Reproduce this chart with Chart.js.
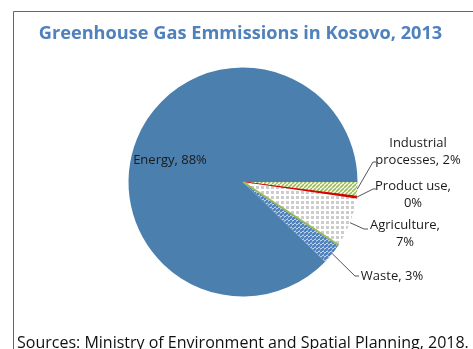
<!DOCTYPE html>
<html>
<head>
<meta charset="utf-8">
<script src="https://cdn.jsdelivr.net/npm/chart.js@4.4.1/dist/chart.umd.min.js"></script>
<style>
  html, body { margin: 0; padding: 0; background: #fff; }
  #ghg { display: block; }
</style>
</head>
<body>
<canvas id="ghg" width="473" height="349"></canvas>
<script>
// Emission shares by sector, clockwise from 3 o'clock
const sectors = ['Industrial processes', 'Product use', 'Agriculture', 'Waste', 'Energy'];
const shares = [2, 0.3, 7, 3, 88];

const titleText = 'Greenhouse Gas Emmissions in Kosovo, 2013';
const sourceText = 'Sources: Ministry of Environment and Spatial Planning, 2018.';

// where each sector label sits and how its text wraps
const labelLayout = {
  'Industrial processes': { x: 418, y: 147, wrap: 'word', knee: [373, 162], end: [376, 162] },
  'Product use':          { x: 413, y: 190, wrap: 'comma', knee: [373, 189], end: [376, 189] },
  'Agriculture':          { x: 405, y: 229, wrap: 'comma', knee: [364, 229], end: [368, 229] },
  'Waste':                { x: 392, y: 280, wrap: null, knee: [355, 276], end: [359, 276] },
  'Energy':               { x: 170, y: 164, wrap: null, inside: true }
};

function makePattern(size, draw) {
  const c = document.createElement('canvas');
  c.width = size; c.height = size;
  const g = c.getContext('2d');
  g.fillStyle = '#fff';
  g.fillRect(0, 0, size, size);
  draw(g, size);
  return document.getElementById('ghg').getContext('2d').createPattern(c, 'repeat');
}

function diagonal(color, width) {
  return function (g, s) {
    g.strokeStyle = color;
    g.lineWidth = width;
    g.beginPath();
    for (let k = -1; k <= 1; k++) {
      g.moveTo(k * s, s);
      g.lineTo(k * s + s, 0);
    }
    g.stroke();
  };
}

const greenHatch = makePattern(4, diagonal('#9bbb59', 1.6));
const blueStripes = makePattern(4, diagonal('#4f81bd', 2.6));
const greyDots = makePattern(5, function (g) {
  g.fillStyle = '#cccccc';
  g.fillRect(1, 1, 3, 3);
});

const fills = [greenHatch, '#d40000', greyDots, blueStripes, '#4a7fae'];

function labelLines(name, value) {
  const text = name + ', ' + Math.round(value) + '%';
  const wrap = labelLayout[name].wrap;
  if (wrap === 'word') {
    const i = text.indexOf(' ');
    return [text.slice(0, i), text.slice(i + 1)];
  }
  if (wrap === 'comma') {
    const i = text.indexOf(',');
    return [text.slice(0, i + 1), text.slice(i + 2)];
  }
  return [text];
}

const decorations = {
  id: 'decorations',
  beforeDraw(chart) {
    const ctx = chart.ctx;
    ctx.save();
    ctx.fillStyle = '#fff';
    ctx.fillRect(0, 0, chart.width, chart.height);
    // outer frame, running off the right and bottom edges
    ctx.strokeStyle = '#666';
    ctx.lineWidth = 1;
    ctx.beginPath();
    ctx.moveTo(13.5, chart.height);
    ctx.lineTo(13.5, 11.5);
    ctx.lineTo(chart.width, 11.5);
    ctx.stroke();

    ctx.fillStyle = '#4f81bd';
    ctx.font = 'bold 18.2px "Open Sans", sans-serif';
    ctx.textAlign = 'center';
    ctx.textBaseline = 'alphabetic';
    ctx.fillText(titleText, 240.5, 38.5);

    ctx.fillStyle = '#111';
    ctx.font = '16px "Open Sans", sans-serif';
    ctx.textAlign = 'left';
    ctx.fillText(sourceText, 17, 348);
    ctx.restore();
  },
  afterDatasetsDraw(chart) {
    const ctx = chart.ctx;
    const arcs = chart.getDatasetMeta(0).data;
    ctx.save();

    // green edge between agriculture and waste
    const waste = arcs[sectors.indexOf('Waste')];
    ctx.strokeStyle = '#9bbb59';
    ctx.lineWidth = 2;
    ctx.beginPath();
    ctx.moveTo(waste.x, waste.y);
    ctx.lineTo(waste.x + Math.cos(waste.startAngle) * waste.outerRadius,
               waste.y + Math.sin(waste.startAngle) * waste.outerRadius);
    ctx.stroke();

    ctx.font = '13px "Open Sans", sans-serif';
    ctx.textAlign = 'center';
    ctx.textBaseline = 'alphabetic';
    sectors.forEach(function (name, i) {
      const arc = arcs[i];
      const pos = labelLayout[name];
      const lines = labelLines(name, shares[i]);
      if (!pos.inside) {
        const mid = (arc.startAngle + arc.endAngle) / 2;
        ctx.strokeStyle = '#555';
        ctx.lineWidth = 1;
        ctx.beginPath();
        ctx.moveTo(arc.x + Math.cos(mid) * arc.outerRadius, arc.y + Math.sin(mid) * arc.outerRadius);
        ctx.lineTo(pos.knee[0], pos.knee[1]);
        ctx.lineTo(pos.end[0], pos.end[1]);
        ctx.stroke();
      }
      ctx.fillStyle = '#1a1a1a';
      lines.forEach(function (line, k) {
        ctx.fillText(line, pos.x, pos.y + k * 17);
      });
    });
    ctx.restore();
  }
};

new Chart(document.getElementById('ghg'), {
  type: 'pie',
  data: {
    labels: sectors,
    datasets: [{
      data: shares,
      backgroundColor: fills,
      borderWidth: [0, 1, 0, 0, 0],
      borderColor: '#d40000'
    }]
  },
  options: {
    responsive: false,
    animation: false,
    devicePixelRatio: 1,
    rotation: 90,
    layout: { padding: { left: 128, right: 115, top: 67, bottom: 52 } },
    plugins: {
      legend: { display: false },
      tooltip: { enabled: false },
      title: { display: false }
    }
  },
  plugins: [decorations]
});
</script>
</body>
</html>
